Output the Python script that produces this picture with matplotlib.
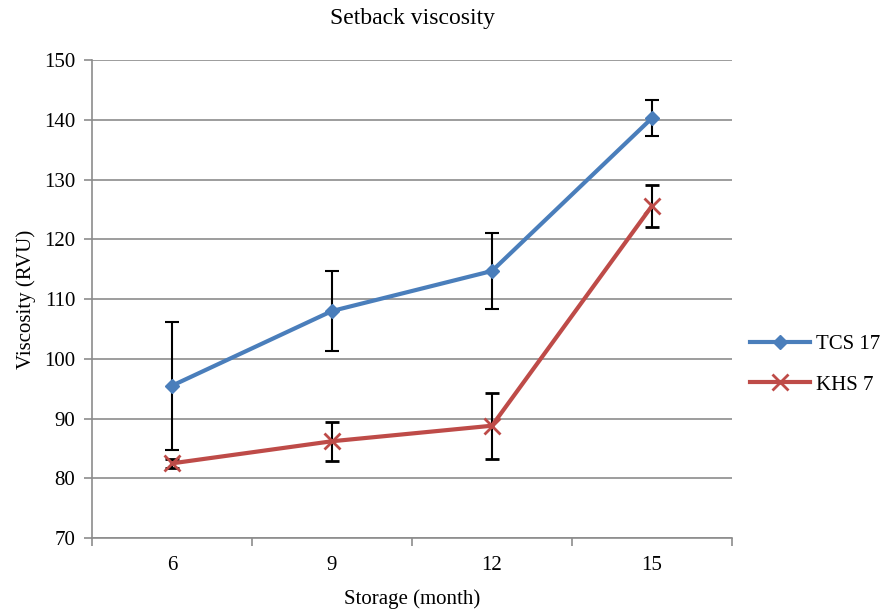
import matplotlib
matplotlib.use("Agg")
import matplotlib.pyplot as plt
from matplotlib.lines import Line2D
import numpy as np

plt.rcParams["font.family"] = ["Liberation Serif", "DejaVu Serif"]

months = ["6", "9", "12", "15"]
tcs17 = [95.5, 108.0, 114.7, 140.3]
tcs17_err = [10.7, 6.7, 6.3, 3.0]
khs7 = [82.5, 86.2, 88.8, 125.6]
khs7_err = [0.8, 3.3, 5.5, 3.5]

blue = "#4A7EBB"
red = "#BE4B48"

fig = plt.figure(figsize=(8.89, 6.13), dpi=100)
ax = fig.add_axes([0.1035, 0.1223, 0.7199, 0.7797])

x = np.arange(len(months))
ax.errorbar(x, tcs17, yerr=tcs17_err, color=blue, lw=3, marker="D", ms=7,
            ecolor="black", elinewidth=1.5, capsize=5, capthick=1.5, zorder=3)
ax.errorbar(x, khs7, yerr=khs7_err, color=red, lw=3, marker="x", ms=12, mew=2,
            ecolor="black", elinewidth=1.5, capsize=5, capthick=1.5, zorder=3)

ax.set_xlim(-0.5, 3.5)
ax.set_ylim(70, 150)
ax.set_yticks(np.arange(70, 151, 10))
ax.yaxis.grid(True, color="#8c8c8c", lw=1.2)
ax.set_axisbelow(True)

ax.set_xticks(np.arange(-0.5, 3.6, 1))
ax.set_xticklabels([])
ax.set_xticks(x, minor=True)
ax.set_xticklabels(months, minor=True)
ax.tick_params(axis="x", which="minor", length=0, pad=13, labelsize=15)
ax.tick_params(axis="x", which="major", length=6, color="#8c8c8c", width=1.2)
ax.tick_params(axis="y", length=6, color="#8c8c8c", width=1.2, labelsize=15, pad=6)

for s in ["top", "right"]:
    ax.spines[s].set_visible(False)
for s in ["left", "bottom"]:
    ax.spines[s].set_color("#8c8c8c")
    ax.spines[s].set_linewidth(1.2)

ax.set_title("Setback viscosity", fontsize=17, pad=26)
ax.set_xlabel("Storage (month)", fontsize=15, labelpad=10)
ax.set_ylabel("Viscosity (RVU)", fontsize=15, labelpad=6)

handles = [
    Line2D([], [], color=blue, lw=3, marker="D", ms=7),
    Line2D([], [], color=red, lw=3, marker="x", ms=12, mew=2),
]
fig.legend(handles, ["TCS 17", "KHS 7"], loc="center left", bbox_to_anchor=(0.822, 0.405),
           frameon=False, fontsize=15, handlelength=2.9, handletextpad=0.3, labelspacing=1.0)

fig.savefig("out.png", dpi=100)
